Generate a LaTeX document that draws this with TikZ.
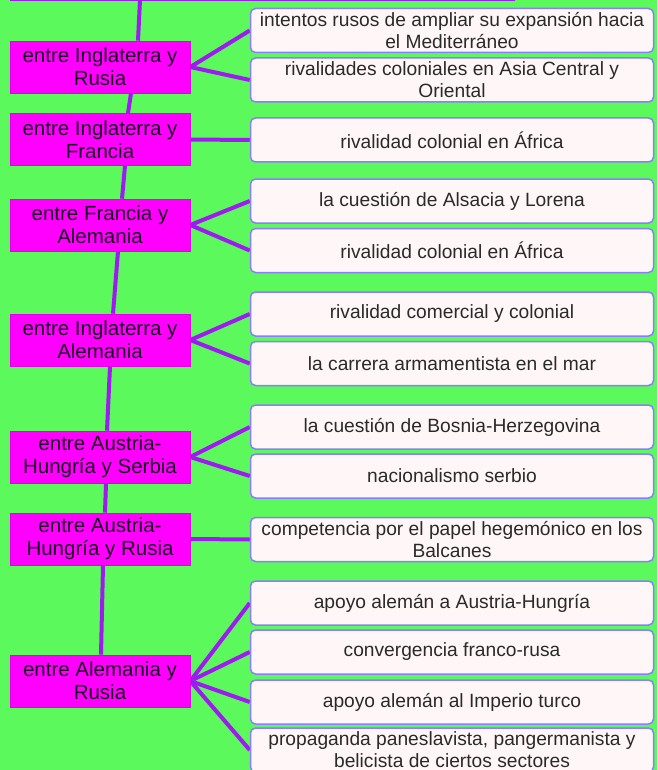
\documentclass[tikz,border=0pt]{standalone}
\usepackage{fontspec}
\setmainfont{Liberation Sans}
\usetikzlibrary{backgrounds}
\definecolor{bg}{HTML}{5CF95C}
\definecolor{mag}{HTML}{FF00FF}
\definecolor{magd}{HTML}{E000E8}
\definecolor{ltext}{HTML}{1A0020}
\definecolor{rfill}{HTML}{FFF7F7}
\definecolor{rborder}{HTML}{8C7CFF}
\definecolor{rtext}{HTML}{2A2A2A}
\definecolor{linkc}{HTML}{9E1AF0}
\begin{document}
\begin{tikzpicture}[x=1pt,y=-1pt,
  lbox/.style={fill=mag, draw=magd, line width=0.6pt, minimum width=180pt, minimum height=52pt, inner sep=0pt, align=center, font=\fontsize{20.5}{23}\selectfont, text=ltext},
  rbox/.style={fill=rfill, draw=rborder, line width=1.5pt, rounded corners=5pt, minimum width=403pt, minimum height=44pt, inner sep=0pt, align=center, font=\fontsize{19.2}{22}\selectfont, text=rtext},
  link/.style={draw=linkc, line width=4pt}]
\useasboundingbox (0,0) rectangle (657,770);
\clip (0,0) rectangle (657,770);
% left boxes
\node[lbox] (L1) at (100,67) {entre Inglaterra y\\Rusia};
\node[lbox] (L2) at (100,139.5) {entre Inglaterra y\\Francia};
\node[lbox] (L3) at (100,225) {entre Francia y\\Alemania};
\node[lbox] (L4) at (100,340) {entre Inglaterra y\\Alemania};
\node[lbox] (L5) at (100,457) {entre Austria-\\Hungría y Serbia};
\node[lbox] (L6) at (100,539) {entre Austria-\\Hungría y Rusia};
\node[lbox] (L7) at (100,681) {entre Alemania y\\Rusia};
% right boxes
\node[rbox] (R1) at (452,30.5) {intentos rusos de ampliar su expansión hacia\\el Mediterráneo};
\node[rbox] (R2) at (452,80) {rivalidades coloniales en Asia Central y\\Oriental};
\node[rbox] (R3) at (452,140) {rivalidad colonial en África};
\node[rbox] (R4) at (452,201) {la cuestión de Alsacia y Lorena};
\node[rbox] (R5) at (452,250.5) {rivalidad colonial en África};
\node[rbox] (R6) at (452,314) {rivalidad comercial y colonial};
\node[rbox] (R7) at (452,363.5) {la carrera armamentista en el mar};
\node[rbox] (R8) at (452,427) {la cuestión de Bosnia-Herzegovina};
\node[rbox] (R9) at (452,476) {nacionalismo serbio};
\node[rbox] (R10) at (452,539.5) {competencia por el papel hegemónico en los\\Balcanes};
\node[rbox] (R11) at (452,603) {apoyo alemán a Austria-Hungría};
\node[rbox] (R12) at (452,652) {convergencia franco-rusa};
\node[rbox] (R13) at (452,702) {apoyo alemán al Imperio turco};
\node[rbox] (R14) at (452,750) {propaganda paneslavista, pangermanista y\\belicista de ciertos sectores};
\coordinate (top) at (140,0);
\begin{scope}[on background layer]
  \fill[bg] (0,0) rectangle (657,770);
  \fill[linkc] (10,0) rectangle (515,1.5);
  % spine
  \draw[link] (top) -- ([xshift=38pt]L1.north);
  \draw[link] ([xshift=31pt]L1.south) -- ([xshift=28pt]L2.north);
  \draw[link] ([xshift=25pt]L2.south) -- ([xshift=22pt]L3.north);
  \draw[link] ([xshift=18pt]L3.south) -- ([xshift=13pt]L4.north);
  \draw[link] ([xshift=10pt]L4.south) -- ([xshift=7pt]L5.north);
  \draw[link] ([xshift=6pt]L5.south) -- ([xshift=5pt]L6.north);
  \draw[link] ([xshift=3pt]L6.south) -- ([xshift=1pt]L7.north);
  % branches
  \draw[link] (L1.east) -- (R1.west);
  \draw[link] (L1.east) -- (R2.west);
  \draw[link] (L2.east) -- (R3.west);
  \draw[link] (L3.east) -- (R4.west);
  \draw[link] (L3.east) -- (R5.west);
  \draw[link] (L4.east) -- (R6.west);
  \draw[link] (L4.east) -- (R7.west);
  \draw[link] (L5.east) -- (R8.west);
  \draw[link] (L5.east) -- (R9.west);
  \draw[link] (L6.east) -- (R10.west);
  \draw[link] (L7.east) -- (R11.west);
  \draw[link] (L7.east) -- (R12.west);
  \draw[link] (L7.east) -- (R13.west);
  \draw[link] (L7.east) -- (R14.west);
\end{scope}
\end{tikzpicture}
\end{document}
